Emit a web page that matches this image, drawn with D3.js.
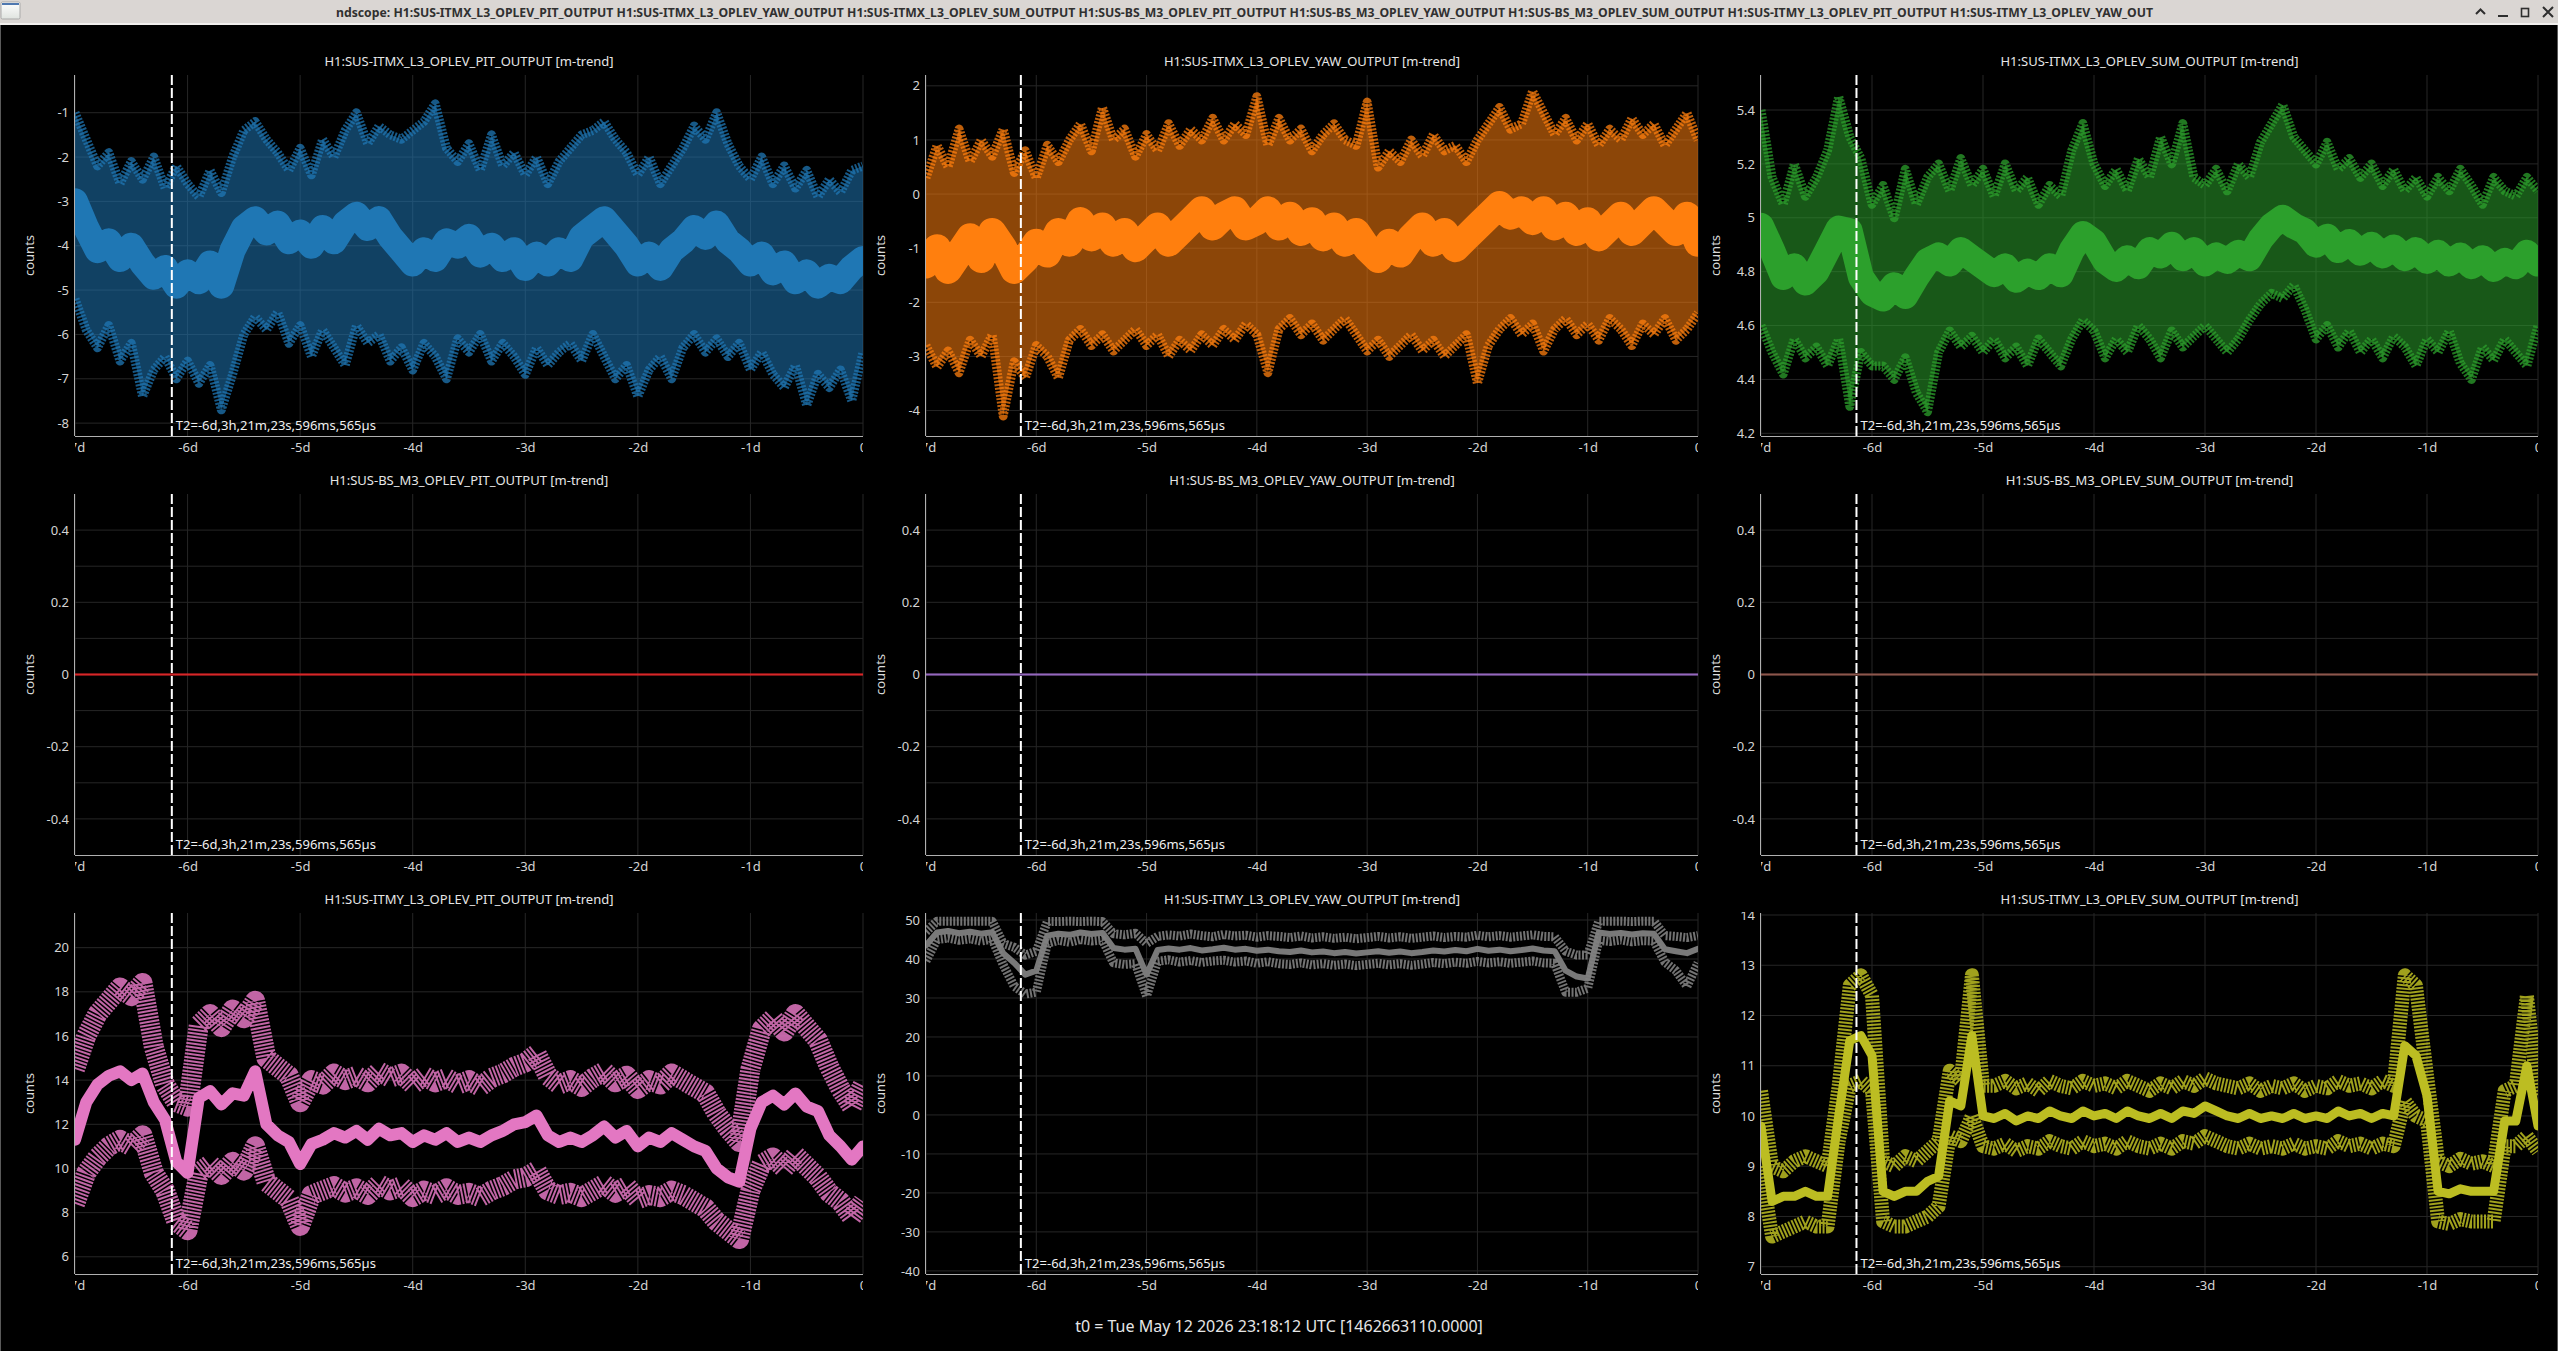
<!DOCTYPE html>
<html>
<head>
<meta charset="utf-8">
<title>ndscope</title>
<script src="https://cdn.jsdelivr.net/npm/d3@7"></script>
<style>
  body { margin: 0; background: #000; overflow: hidden; }
  svg text { font-family: "Noto Sans", "Open Sans", sans-serif; }
</style>
</head>
<body>
<svg id="scope" width="2558" height="1351"></svg>
<script>

// ---- data (days relative to t0) ----

var sampleDays = [-7.0,-6.9,-6.8,-6.7,-6.6,-6.5,-6.4,-6.3,-6.2,-6.1,-6.0,-5.9,-5.8,-5.7,-5.6,-5.5,-5.4,-5.3,-5.2,-5.1,
  -5.0,-4.9,-4.8,-4.7,-4.6,-4.5,-4.4,-4.3,-4.2,-4.1,-4.0,-3.9,-3.8,-3.7,-3.6,-3.5,-3.4,-3.3,-3.2,-3.1,
  -3.0,-2.9,-2.8,-2.7,-2.6,-2.5,-2.4,-2.3,-2.2,-2.1,-2.0,-1.9,-1.8,-1.7,-1.6,-1.5,-1.4,-1.3,-1.2,-1.1,
  -1.0,-0.9,-0.8,-0.7,-0.6,-0.5,-0.4,-0.3,-0.2,-0.1,0.0];

var dayTicks = [-7, -6, -5, -4, -3, -2, -1, 0];
var dayLabels = ['-7d', '-6d', '-5d', '-4d', '-3d', '-2d', '-1d', '0'];

var channels = [
  'H1:SUS-ITMX_L3_OPLEV_PIT_OUTPUT', 'H1:SUS-ITMX_L3_OPLEV_YAW_OUTPUT', 'H1:SUS-ITMX_L3_OPLEV_SUM_OUTPUT',
  'H1:SUS-BS_M3_OPLEV_PIT_OUTPUT', 'H1:SUS-BS_M3_OPLEV_YAW_OUTPUT', 'H1:SUS-BS_M3_OPLEV_SUM_OUTPUT',
  'H1:SUS-ITMY_L3_OPLEV_PIT_OUTPUT', 'H1:SUS-ITMY_L3_OPLEV_YAW_OUTPUT', 'H1:SUS-ITMY_L3_OPLEV_SUM_OUTPUT'
];

// ITMX PIT
var itmxPitMax = [-1.0,-1.6,-2.2,-1.9,-2.6,-2.1,-2.5,-2.0,-2.7,-2.2,
  -2.6,-2.9,-2.3,-2.8,-2.0,-1.4,-1.2,-1.6,-1.9,-2.3,
  -1.8,-2.4,-1.6,-2.0,-1.4,-1.0,-1.7,-1.3,-1.5,-1.6,
  -1.4,-1.2,-0.8,-1.8,-2.1,-1.7,-2.3,-1.5,-2.2,-1.9,
  -2.4,-2.0,-2.6,-2.1,-1.8,-1.5,-1.4,-1.2,-1.6,-1.9,
  -2.4,-2.0,-2.6,-2.2,-1.8,-1.3,-1.6,-1.0,-1.7,-2.2,
  -2.5,-2.0,-2.6,-2.2,-2.7,-2.3,-2.9,-2.5,-2.8,-2.3,-2.2];
var itmxPitMean = [-3.0,-3.6,-4.1,-3.9,-4.3,-4.0,-4.4,-4.7,-4.5,-4.9,
  -4.6,-4.8,-4.4,-4.9,-4.1,-3.6,-3.4,-3.7,-3.5,-3.9,
  -3.7,-4.0,-3.6,-3.9,-3.5,-3.3,-3.6,-3.4,-3.8,-4.1,
  -4.4,-4.1,-4.3,-3.9,-4.0,-3.8,-4.2,-4.0,-4.3,-4.1,
  -4.5,-4.2,-4.4,-4.1,-4.3,-3.8,-3.6,-3.4,-3.7,-4.0,
  -4.4,-4.2,-4.5,-4.1,-3.9,-3.6,-3.8,-3.5,-3.9,-4.1,
  -4.4,-4.2,-4.6,-4.4,-4.8,-4.6,-4.9,-4.7,-4.8,-4.5,-4.3];
var itmxPitMin = [-5.2,-5.9,-6.3,-5.8,-6.6,-6.2,-7.4,-6.8,-6.5,-7.0,
  -6.6,-7.1,-6.7,-7.7,-6.9,-6.0,-5.6,-5.9,-5.5,-6.2,
  -5.8,-6.5,-5.9,-6.3,-6.7,-5.8,-6.2,-6.0,-6.6,-6.3,
  -6.8,-6.2,-6.5,-7.0,-6.1,-6.4,-6.0,-6.6,-6.2,-6.5,
  -6.9,-6.3,-6.7,-6.4,-6.2,-6.6,-6.0,-6.5,-7.0,-6.7,
  -7.4,-6.8,-6.5,-7.0,-6.3,-6.0,-6.4,-6.1,-6.5,-6.2,
  -6.8,-6.4,-6.9,-7.2,-6.7,-7.6,-6.9,-7.2,-6.8,-7.5,-6.4];

// ITMX YAW
var itmxYawMax = [0.3,0.9,0.5,1.2,0.6,1.0,0.7,1.2,0.4,0.8,
  0.3,0.9,0.6,1.0,1.3,0.8,1.6,1.0,1.2,0.7,
  1.1,0.8,1.3,0.9,1.2,1.0,1.4,1.0,1.3,1.1,
  1.8,0.9,1.4,1.0,1.2,0.8,1.1,1.3,1.0,0.9,
  1.7,0.5,0.8,0.6,1.0,0.7,1.1,0.8,0.9,0.6,
  1.0,1.3,1.6,1.2,1.3,1.9,1.5,1.1,1.4,1.0,
  1.3,0.9,1.2,1.0,1.4,1.1,1.3,0.9,1.2,1.5,1.0];
var itmxYawMean = [-1.3,-1.0,-1.4,-1.1,-0.8,-1.2,-0.7,-1.0,-1.4,-1.2,
  -0.9,-1.1,-0.7,-0.9,-0.5,-0.8,-0.6,-0.9,-0.7,-1.0,
  -0.8,-0.6,-0.9,-0.7,-0.5,-0.3,-0.6,-0.4,-0.3,-0.6,
  -0.5,-0.3,-0.6,-0.4,-0.7,-0.5,-0.8,-0.6,-0.9,-0.7,
  -1.0,-1.2,-0.9,-1.1,-0.8,-0.6,-0.9,-0.7,-1.0,-0.8,
  -0.6,-0.4,-0.2,-0.4,-0.3,-0.5,-0.3,-0.6,-0.4,-0.7,
  -0.5,-0.8,-0.6,-0.4,-0.7,-0.5,-0.3,-0.5,-0.7,-0.4,-0.9];
var itmxYawMin = [-2.8,-3.2,-2.9,-3.3,-2.7,-3.0,-2.6,-4.1,-3.1,-3.4,
  -2.8,-3.0,-3.4,-2.7,-2.5,-2.8,-2.6,-2.9,-2.7,-2.5,
  -2.8,-2.6,-3.0,-2.7,-2.9,-2.6,-2.8,-2.5,-2.7,-2.4,
  -2.6,-3.3,-2.5,-2.3,-2.6,-2.4,-2.7,-2.5,-2.3,-2.6,
  -2.9,-2.7,-3.0,-2.8,-2.6,-2.9,-2.7,-3.0,-2.8,-2.6,
  -3.5,-2.8,-2.5,-2.3,-2.6,-2.4,-2.9,-2.5,-2.3,-2.6,
  -2.4,-2.7,-2.3,-2.5,-2.8,-2.4,-2.6,-2.3,-2.7,-2.5,-2.2];

// ITMX SUM
var itmxSumMax = [5.40,5.15,5.05,5.20,5.08,5.15,5.25,5.45,5.30,5.22,
  5.05,5.12,5.00,5.18,5.05,5.15,5.20,5.10,5.22,5.12,
  5.18,5.08,5.20,5.10,5.15,5.05,5.12,5.08,5.25,5.35,
  5.20,5.12,5.18,5.10,5.22,5.15,5.30,5.20,5.35,5.15,
  5.12,5.18,5.10,5.20,5.15,5.28,5.35,5.42,5.30,5.25,
  5.20,5.28,5.18,5.22,5.15,5.20,5.12,5.18,5.10,5.15,
  5.08,5.15,5.10,5.18,5.12,5.05,5.15,5.10,5.08,5.15,5.10];
var itmxSumMean = [4.97,4.88,4.78,4.82,4.76,4.80,4.88,4.96,4.95,4.78,
  4.72,4.70,4.75,4.71,4.78,4.84,4.86,4.83,4.88,4.85,
  4.82,4.79,4.82,4.77,4.80,4.78,4.82,4.79,4.88,4.94,
  4.91,4.84,4.81,4.85,4.82,4.88,4.86,4.90,4.85,4.88,
  4.83,4.86,4.84,4.87,4.85,4.92,4.97,5.00,4.97,4.95,
  4.90,4.93,4.88,4.91,4.87,4.90,4.86,4.89,4.85,4.88,
  4.84,4.87,4.83,4.86,4.82,4.85,4.81,4.84,4.82,4.87,4.83];
var itmxSumMin = [4.60,4.50,4.42,4.55,4.48,4.52,4.45,4.55,4.30,4.50,
  4.45,4.45,4.40,4.48,4.35,4.28,4.50,4.58,4.52,4.56,
  4.50,4.55,4.48,4.52,4.45,4.55,4.50,4.45,4.55,4.62,
  4.58,4.48,4.55,4.50,4.60,4.55,4.48,4.58,4.52,4.56,
  4.60,4.55,4.50,4.55,4.62,4.68,4.72,4.70,4.75,4.66,
  4.55,4.60,4.52,4.58,4.50,4.55,4.48,4.56,4.52,4.45,
  4.55,4.50,4.58,4.46,4.40,4.52,4.47,4.55,4.50,4.45,4.60];

// BS channels sat at zero for the whole week
var bsDays = [-7, 0];
var bsPitMean = [0, 0];
var bsYawMean = [0, 0];
var bsSumMean = [0, 0];

// ITMY PIT
var itmyPitMax = [14.5,16.0,17.0,17.6,18.2,17.8,18.4,15.5,13.8,13.0,
  12.8,16.5,17.0,16.4,17.2,16.8,17.6,15.0,14.6,14.2,
  13.0,14.0,13.8,14.3,14.0,14.2,13.9,14.4,14.1,14.3,
  13.8,14.2,13.9,14.1,13.8,14.0,13.7,14.1,14.3,14.6,
  14.8,15.2,14.2,13.8,14.0,13.7,14.1,14.4,13.9,14.2,
  13.6,14.0,13.8,14.3,14.0,13.7,13.4,12.5,11.8,11.2,
  14.5,16.3,16.8,16.2,17.0,16.4,15.8,14.6,13.6,12.8,13.8];
var itmyPitMean = [11.3,13.0,13.8,14.2,14.4,14.0,14.3,13.0,12.2,10.3,
  9.8,13.2,13.5,12.9,13.4,13.3,14.4,12.0,11.5,11.2,
  10.2,11.1,11.3,11.6,11.4,11.7,11.3,11.8,11.5,11.6,
  11.2,11.5,11.3,11.6,11.2,11.4,11.2,11.5,11.7,12.0,
  12.1,12.4,11.5,11.2,11.4,11.2,11.5,11.9,11.4,11.7,
  11.0,11.4,11.2,11.6,11.3,11.0,10.8,10.0,9.6,9.4,
  11.8,13.0,13.3,12.9,13.4,12.8,12.6,11.5,11.0,10.4,11.0];
var itmyPitMin = [8.4,9.8,10.5,11.0,11.3,11.0,11.5,9.8,9.0,7.6,
  7.2,9.8,10.2,9.7,10.3,9.9,11.0,9.4,9.0,8.6,
  7.4,8.8,9.0,9.2,8.9,9.1,8.8,9.3,9.0,9.2,
  8.7,9.0,8.8,9.1,8.8,8.9,8.7,9.0,9.2,9.5,
  9.6,9.9,9.0,8.8,8.9,8.7,9.0,9.3,8.9,9.2,
  8.6,8.8,8.7,9.0,8.8,8.5,8.2,7.6,7.2,6.8,
  9.0,10.2,10.5,10.0,10.6,10.1,9.6,8.9,8.5,7.8,8.5];

// ITMY YAW
var itmyYawMax = [47.0,49.7,49.7,49.7,49.7,49.7,49.7,44.0,43.0,41.0,
  42.0,49.6,49.6,49.7,49.6,49.7,49.6,46.5,46.2,46.6,
  44.0,45.8,46.2,45.9,46.4,46.0,45.7,46.3,45.9,46.1,
  45.6,46.0,45.8,45.5,45.9,45.4,45.7,45.3,45.6,45.2,
  45.5,45.8,45.4,45.7,45.3,45.6,45.9,45.5,45.8,45.6,
  46.1,45.7,46.0,45.6,45.9,46.2,45.8,45.7,42.0,41.0,
  41.0,49.7,49.7,49.7,49.6,49.7,49.7,46.0,45.8,45.5,46.0];
var itmyYawMean = [43.5,46.8,47.2,46.6,47.0,46.5,46.9,41.5,39.0,36.0,
  37.0,46.0,46.5,46.2,46.8,46.4,46.7,42.8,42.4,42.6,
  36.0,42.3,42.7,42.4,42.8,42.2,42.5,42.9,42.4,42.6,
  42.1,42.4,42.0,41.8,42.2,41.7,41.9,41.5,41.8,41.4,
  41.7,42.0,41.6,41.9,41.5,41.8,42.2,41.9,42.3,42.0,
  42.6,42.1,42.4,42.0,42.3,42.7,42.2,42.0,37.0,35.5,
  35.0,46.8,46.4,46.7,46.3,46.6,46.5,42.5,42.0,41.5,42.6];
var itmyYawMin = [39.5,45.0,45.4,44.8,45.2,44.6,45.1,38.5,33.0,31.0,
  31.5,44.0,44.8,44.3,45.0,44.6,44.9,39.0,38.6,38.8,
  30.5,39.4,39.8,39.2,39.6,39.1,39.5,39.7,39.2,39.5,
  38.9,39.3,38.8,38.6,39.0,38.5,38.8,38.4,38.7,38.3,
  38.6,38.9,38.5,38.8,38.4,38.7,39.1,38.8,39.2,38.9,
  39.4,39.0,39.3,38.9,39.2,39.5,39.0,38.9,31.5,31.5,
  32.5,44.8,44.5,44.9,44.4,44.7,44.6,39.2,37.0,33.0,39.0];

// ITMY SUM
var itmySumMax = [10.5,9.0,8.9,9.1,9.2,9.1,9.0,10.6,12.6,12.8,
  12.4,9.1,9.0,9.2,9.1,9.3,9.5,10.9,10.7,12.8,
  10.6,10.6,10.7,10.55,10.65,10.5,10.7,10.6,10.55,10.7,
  10.6,10.65,10.55,10.7,10.6,10.5,10.65,10.55,10.7,10.6,
  10.75,10.65,10.6,10.55,10.65,10.5,10.6,10.55,10.65,10.5,
  10.6,10.55,10.7,10.6,10.65,10.55,10.7,10.6,12.8,12.6,
  10.8,9.1,9.0,9.15,9.05,9.1,9.0,10.5,10.6,12.4,10.4];
var itmySumMean = [9.8,8.3,8.4,8.4,8.5,8.4,8.4,10.0,11.5,11.6,
  11.2,8.5,8.4,8.5,8.5,8.7,8.8,10.3,10.2,11.6,
  10.0,9.95,10.05,9.9,10.0,9.95,10.1,10.0,9.95,10.1,
  10.0,10.05,9.95,10.1,10.0,9.95,10.05,9.95,10.1,10.05,
  10.2,10.1,10.0,9.95,10.05,9.95,10.0,9.95,10.05,9.95,
  10.0,9.95,10.1,10.0,10.05,9.95,10.05,10.0,11.4,11.2,
  10.4,8.5,8.45,8.55,8.5,8.5,8.5,9.9,9.9,11.0,9.8];
var itmySumMin = [9.0,7.6,7.7,7.8,7.9,7.8,7.8,9.5,10.6,10.7,
  10.5,7.9,7.8,7.8,7.9,8.0,8.2,9.6,9.5,10.0,
  9.4,9.35,9.45,9.3,9.4,9.35,9.5,9.4,9.35,9.5,
  9.4,9.45,9.35,9.5,9.4,9.35,9.45,9.35,9.5,9.45,
  9.6,9.5,9.4,9.35,9.45,9.35,9.4,9.35,9.45,9.35,
  9.4,9.35,9.5,9.4,9.45,9.35,9.45,9.4,10.3,10.0,
  9.9,7.9,7.85,7.95,7.9,7.9,7.9,9.4,9.4,9.6,9.3];

// y tick values per panel
var itmxPitTicks = [-8, -7, -6, -5, -4, -3, -2, -1];
var itmxYawTicks = [-4, -3, -2, -1, 0, 1, 2];
var itmxSumTicks = [4.2, 4.4, 4.6, 4.8, 5, 5.2, 5.4];
var bsTicks = [-0.4, -0.2, 0, 0.2, 0.4];
var bsMinorTicks = [-0.3, -0.1, 0.1, 0.3];
var itmyPitTicks = [6, 8, 10, 12, 14, 16, 18, 20];
var itmyYawTicks = [-40, -30, -20, -10, 0, 10, 20, 30, 40, 50];
var itmySumTicks = [7, 8, 9, 10, 11, 12, 13, 14];

// T2 cursor: -6d,3h,21m,23s,596ms,565us
var t2Days = -(6 + 3 / 24 + 21 / 1440 + 23.596565 / 86400);
var t2Label = 'T2=-6d,3h,21m,23s,596ms,565\u00b5s';
var t0Label = 't0 = Tue May 12 2026 23:18:12 UTC [1462663110.0000]';

// ---- layout ----

var colLeft = [75, 926, 1761];
var colRight = [863, 1698, 2538];
var rowTop = [75, 494, 913];
var plotH = 361;

var gridColor = '#262626';
var tickColor = '#d4d4d4';
var axisColor = '#b0b0b0';

// band look: fill between min/max, min/max pens (dashed to give the streaky texture), mean pen
var bandStyle = { fill: 0.55, edgeW: 9, edgeOp: 0.75, edgeDash: '2,1.5', meanW: 22, meanOp: 1 };
var flatStyle = { fill: 0, edgeW: 1.5, edgeOp: 1, edgeDash: null, meanW: 1.5, meanOp: 1 };

var panels = [
  { ch: 0, row: 0, col: 0, color: '#1f77b4', range: [-8.29, -0.15], ticks: itmxPitTicks, minor: [],
    days: sampleDays, max: itmxPitMax, mean: itmxPitMean, min: itmxPitMin, style: Object.assign({}, bandStyle, { meanW: 26 }) },
  { ch: 1, row: 0, col: 1, color: '#ff7f0e', range: [-4.47, 2.20], ticks: itmxYawTicks, minor: [],
    days: sampleDays, max: itmxYawMax, mean: itmxYawMean, min: itmxYawMin, style: Object.assign({}, bandStyle, { meanW: 28 }) },
  { ch: 2, row: 0, col: 2, color: '#2ca02c', range: [4.19, 5.53], ticks: itmxSumTicks, minor: [],
    days: sampleDays, max: itmxSumMax, mean: itmxSumMean, min: itmxSumMin, style: Object.assign({}, bandStyle, { meanW: 26 }) },
  { ch: 3, row: 1, col: 0, color: '#d62728', range: [-0.5, 0.5], ticks: bsTicks, minor: bsMinorTicks,
    days: bsDays, max: bsPitMean, mean: bsPitMean, min: bsPitMean, style: flatStyle },
  { ch: 4, row: 1, col: 1, color: '#9467bd', range: [-0.5, 0.5], ticks: bsTicks, minor: bsMinorTicks,
    days: bsDays, max: bsYawMean, mean: bsYawMean, min: bsYawMean, style: flatStyle },
  { ch: 5, row: 1, col: 2, color: '#8c564b', range: [-0.5, 0.5], ticks: bsTicks, minor: bsMinorTicks,
    days: bsDays, max: bsSumMean, mean: bsSumMean, min: bsSumMean, style: flatStyle },
  { ch: 6, row: 2, col: 0, color: '#e377c2', range: [5.22, 21.57], ticks: itmyPitTicks, minor: [],
    days: sampleDays, max: itmyPitMax, mean: itmyPitMean, min: itmyPitMin,
    style: { fill: 0, edgeW: 20, edgeOp: 0.85, edgeDash: '2,1.5', meanW: 12, meanOp: 1 } },
  { ch: 7, row: 2, col: 1, color: '#7f7f7f', range: [-40.8, 51.8], ticks: itmyYawTicks, minor: [],
    days: sampleDays, max: itmyYawMax, mean: itmyYawMean, min: itmyYawMin,
    style: { fill: 0, edgeW: 9, edgeOp: 0.9, edgeDash: '2,1.5', meanW: 6, meanOp: 0.95 } },
  { ch: 8, row: 2, col: 2, color: '#bcbd22', range: [6.855, 14.04], ticks: itmySumTicks, minor: [],
    days: sampleDays, max: itmySumMax, mean: itmySumMean, min: itmySumMin,
    style: { fill: 0, edgeW: 14, edgeOp: 0.85, edgeDash: '2,1.5', meanW: 9, meanOp: 1 } }
];

var svg = d3.select('#scope');
var defs = svg.append('defs');

// ---- window frame ----
svg.append('rect').attr('width', 2558).attr('height', 1351).attr('fill', '#000');
svg.append('rect').attr('width', 2558).attr('height', 23).attr('fill', '#dad6d3');
svg.append('rect').attr('y', 23).attr('width', 2558).attr('height', 2).attr('fill', '#f2f0ee');
svg.append('rect').attr('x', 0).attr('y', 25).attr('width', 1).attr('height', 1326).attr('fill', '#5a5a5a');
svg.append('rect').attr('x', 2557).attr('y', 25).attr('width', 1).attr('height', 1326).attr('fill', '#5a5a5a');

var grad = defs.append('linearGradient').attr('id', 'icon-grad').attr('x1', 0).attr('y1', 0).attr('x2', 0).attr('y2', 1);
grad.append('stop').attr('offset', '0%').attr('stop-color', '#ffffff');
grad.append('stop').attr('offset', '100%').attr('stop-color', '#dfe3df');
svg.append('rect').attr('x', 1).attr('y', 2).attr('width', 19).attr('height', 17).attr('rx', 1.5)
  .attr('fill', 'url(#icon-grad)').attr('stroke', '#a9a9a9');
svg.append('rect').attr('x', 2).attr('y', 3).attr('width', 17).attr('height', 2).attr('fill', '#4f78b0');

svg.append('text')
  .attr('x', 1244.5).attr('y', 16.5).attr('text-anchor', 'middle')
  .attr('textLength', 1817).attr('lengthAdjust', 'spacingAndGlyphs')
  .attr('font-size', 13).attr('font-weight', 'bold').attr('fill', '#303030')
  .text('ndscope: ' + channels.slice(0, 7).join(' ') + ' H1:SUS-ITMY_L3_OPLEV_YAW_OUT');

var btn = svg.append('g').attr('stroke', '#2e2e2e').attr('stroke-width', 2).attr('fill', 'none');
btn.append('path').attr('d', 'M2476,14 L2480.5,9.5 L2485,14');
btn.append('path').attr('d', 'M2498,16 L2508,16');
btn.append('rect').attr('x', 2521.5).attr('y', 8.5).attr('width', 7).attr('height', 8).attr('stroke-width', 1.6);
btn.append('path').attr('d', 'M2543,7 L2553,17 M2553,7 L2543,17');

// ---- panels ----
panels.forEach(function (p) {
  var left = colLeft[p.col], right = colRight[p.col];
  var top = rowTop[p.row], bottom = top + plotH;
  var id = 'p' + p.ch;

  var x = d3.scaleLinear().domain([-7, 0]).range([left, right]);
  var y = d3.scaleLinear().domain(p.range).range([bottom, top]);

  defs.append('clipPath').attr('id', id + '-plot').append('rect')
    .attr('x', left).attr('y', top).attr('width', right - left).attr('height', plotH);
  defs.append('clipPath').attr('id', id + '-xlab').append('rect')
    .attr('x', left).attr('y', bottom).attr('width', right - left).attr('height', 30);
  defs.append('clipPath').attr('id', id + '-ylab').append('rect')
    .attr('x', left - 60).attr('y', top - 1).attr('width', 60).attr('height', plotH + 3);

  var g = svg.append('g');

  // title
  g.append('text')
    .attr('x', (left + right) / 2).attr('y', top - 9.5)
    .attr('text-anchor', 'middle').attr('font-size', 13).attr('fill', '#e6e6e6')
    .text(channels[p.ch] + ' [m-trend]');

  // grid
  var grid = g.append('g').attr('stroke', gridColor).attr('stroke-width', 1);
  grid.selectAll('line.v').data(dayTicks).join('line').attr('class', 'v')
    .attr('x1', function (d) { return x(d); }).attr('x2', function (d) { return x(d); })
    .attr('y1', top).attr('y2', bottom);
  grid.selectAll('line.h').data(p.ticks.concat(p.minor)).join('line').attr('class', 'h')
    .attr('x1', left).attr('x2', right)
    .attr('y1', function (d) { return y(d); }).attr('y2', function (d) { return y(d); });

  // trend: min / max / mean
  var data = g.append('g').attr('clip-path', 'url(#' + id + '-plot)');
  var st = p.style;
  var px = function (d, i) { return x(p.days[i]); };
  var line = d3.line().x(px).y(function (d) { return y(d); });

  if (st.fill > 0) {
    var area = d3.area().x(px)
      .y0(function (d, i) { return y(p.min[i]); })
      .y1(function (d, i) { return y(p.max[i]); });
    data.append('path').attr('d', area(p.max))
      .attr('fill', p.color).attr('fill-opacity', st.fill);
  }
  [p.max, p.min].forEach(function (s) {
    data.append('path').attr('d', line(s))
      .attr('fill', 'none').attr('stroke', p.color)
      .attr('stroke-width', st.edgeW).attr('stroke-opacity', st.edgeOp)
      .attr('stroke-dasharray', st.edgeDash)
      .attr('stroke-linejoin', 'round');
  });
  data.append('path').attr('d', line(p.mean))
    .attr('fill', 'none').attr('stroke', p.color)
    .attr('stroke-width', st.meanW).attr('stroke-opacity', st.meanOp)
    .attr('stroke-linejoin', 'round').attr('stroke-linecap', 'round');

  // axes
  var xa = g.append('g').attr('clip-path', 'url(#' + id + '-xlab)')
    .append('g').attr('transform', 'translate(0,' + bottom + ')')
    .call(d3.axisBottom(x).tickValues(dayTicks)
      .tickFormat(function (d, i) { return dayLabels[i]; })
      .tickSize(0).tickPadding(7));
  xa.select('.domain').remove();
  xa.selectAll('.tick line').remove();
  xa.attr('font-size', 13).attr('font-family', '"Noto Sans", sans-serif');
  xa.selectAll('text').attr('fill', tickColor);

  var ya = g.append('g').attr('clip-path', 'url(#' + id + '-ylab)')
    .append('g').attr('transform', 'translate(' + left + ',0)')
    .call(d3.axisLeft(y).tickValues(p.ticks)
      .tickFormat(function (d) { return String(+d.toFixed(2)); })
      .tickSize(0).tickPadding(6));
  ya.select('.domain').remove();
  ya.selectAll('.tick line').remove();
  ya.attr('font-size', 13).attr('font-family', '"Noto Sans", sans-serif');
  ya.selectAll('text').attr('fill', tickColor);

  g.append('line').attr('x1', left).attr('x2', right).attr('y1', bottom + 0.5).attr('y2', bottom + 0.5)
    .attr('stroke', axisColor);
  g.append('line').attr('x1', left - 0.5).attr('x2', left - 0.5).attr('y1', top).attr('y2', bottom)
    .attr('stroke', axisColor);

  g.append('text')
    .attr('transform', 'translate(' + (left - 46) + ',' + ((top + bottom) / 2) + ') rotate(-90)')
    .attr('text-anchor', 'middle').attr('dy', '0.35em')
    .attr('font-size', 13).attr('fill', '#d8d8d8')
    .text('counts');

  // T2 cursor
  g.append('line')
    .attr('x1', x(t2Days)).attr('x2', x(t2Days)).attr('y1', top).attr('y2', bottom)
    .attr('stroke', '#ffffff').attr('stroke-width', 2).attr('stroke-dasharray', '10,3');
  g.append('text')
    .attr('x', x(t2Days) + 4).attr('y', bottom - 6.5)
    .attr('font-size', 13).attr('fill', '#f0f0f0')
    .text(t2Label);
});

svg.append('text')
  .attr('x', 1279).attr('y', 1332).attr('text-anchor', 'middle')
  .attr('font-size', 16).attr('fill', '#e6e6e6')
  .text(t0Label);

</script>
</body>
</html>
